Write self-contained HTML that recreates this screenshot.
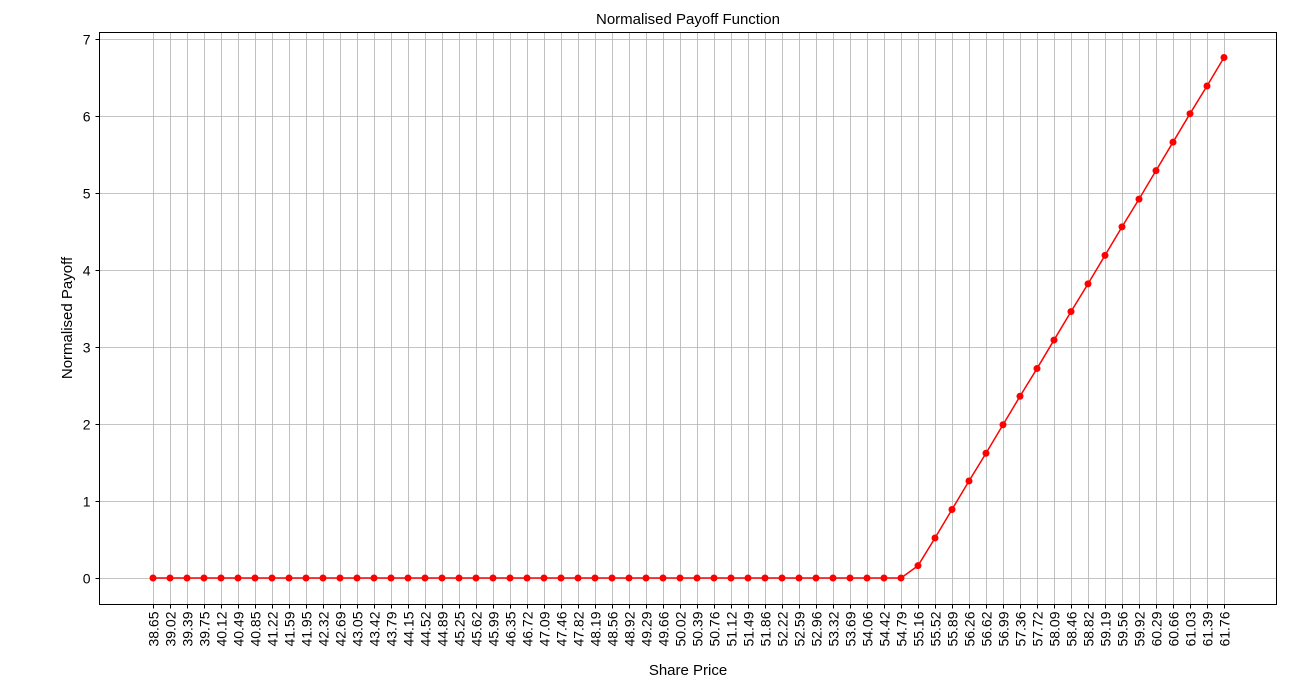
<!DOCTYPE html>
<html><head><meta charset="utf-8"><style>
html,body{margin:0;padding:0;background:#fff;}
svg{display:block;font-family:"Liberation Sans","DejaVu Sans",sans-serif;}
</style></head><body>
<svg id="chart" width="1293" height="687" viewBox="0 0 1293 687" xmlns="http://www.w3.org/2000/svg">
<text x="688" y="24" font-size="15" text-anchor="middle" fill="#000">Normalised Payoff Function</text>
<g id="grid"></g>
<rect x="99.5" y="32.5" width="1177" height="572" fill="none" stroke="#000" stroke-width="1"/>
<g id="yticks"></g>
<g id="xticks"></g>
<g id="series"></g>
<text x="688" y="675" font-size="15" text-anchor="middle" fill="#000">Share Price</text>
<text transform="translate(72,318) rotate(-90)" font-size="15" text-anchor="middle" fill="#000">Normalised Payoff</text>
</svg>
<script>
const categories = ["38.65","39.02","39.39","39.75","40.12","40.49","40.85","41.22","41.59","41.95","42.32","42.69","43.05","43.42","43.79","44.15","44.52","44.89","45.25","45.62","45.99","46.35","46.72","47.09","47.46","47.82","48.19","48.56","48.92","49.29","49.66","50.02","50.39","50.76","51.12","51.49","51.86","52.22","52.59","52.96","53.32","53.69","54.06","54.42","54.79","55.16","55.52","55.89","56.26","56.62","56.99","57.36","57.72","58.09","58.46","58.82","59.19","59.56","59.92","60.29","60.66","61.03","61.39","61.76"];
const payoff = [0,0,0,0,0,0,0,0,0,0,0,0,0,0,0,0,0,0,0,0,0,0,0,0,0,0,0,0,0,0,0,0,0,0,0,0,0,0,0,0,0,0,0,0,0,0.16,0.52,0.89,1.26,1.62,1.99,2.36,2.72,3.09,3.46,3.82,4.19,4.56,4.92,5.29,5.66,6.03,6.39,6.76];
const yTicks = [0,1,2,3,4,5,6,7];

const NS="http://www.w3.org/2000/svg";
const L=99.5,R=1276.5,T=32.5,B=604.5;
const x0=153,x1=1224;
function xs(i){return x0+(x1-x0)*i/(categories.length-1);}
function ys(v){return 578-v*77;}
function mk(tag,attrs,parent){const e=document.createElementNS(NS,tag);for(const k in attrs)e.setAttribute(k,attrs[k]);parent.appendChild(e);return e;}
const grid=document.getElementById('grid'),yt=document.getElementById('yticks'),xt=document.getElementById('xticks'),se=document.getElementById('series');
yTicks.forEach(v=>{
  const y=Math.round(ys(v))+0.5;
  const g=mk('line',{x1:L,x2:R,y1:y,y2:y,stroke:'#b0b0b0','stroke-width':0.8},grid);
  
  
  mk('line',{x1:L-4,x2:L,y1:y,y2:y,stroke:'#000'},yt);
  const t=mk('text',{x:L-9,y:y+5,'font-size':14,'text-anchor':'end',fill:'#000'},yt);
  t.textContent=v;
  
  
});
categories.forEach((c,i)=>{
  const x=Math.round(xs(i))+0.5;
  const g=mk('line',{x1:x,x2:x,y1:T,y2:B,stroke:'#b0b0b0','stroke-width':0.8},grid);
  
  
  mk('line',{x1:x,x2:x,y1:B,y2:B+4,stroke:'#000'},xt);
  const t=mk('text',{transform:`translate(${x+5},${B+7}) rotate(-90)`,'font-size':14,'text-anchor':'end',fill:'#000'},xt);
  t.textContent=c;
  
  
});
const pts=payoff.map((v,i)=>xs(i)+','+ys(v)).join(' ');
const line=mk('polyline',{points:pts,fill:'none',stroke:'#ff0000','stroke-width':1.5},se);


payoff.forEach((v,i)=>{
  const c=mk('circle',{cx:xs(i),cy:ys(v),r:3.5,fill:'#ff0000'},se);
  
  
});
</script>
</body></html>
